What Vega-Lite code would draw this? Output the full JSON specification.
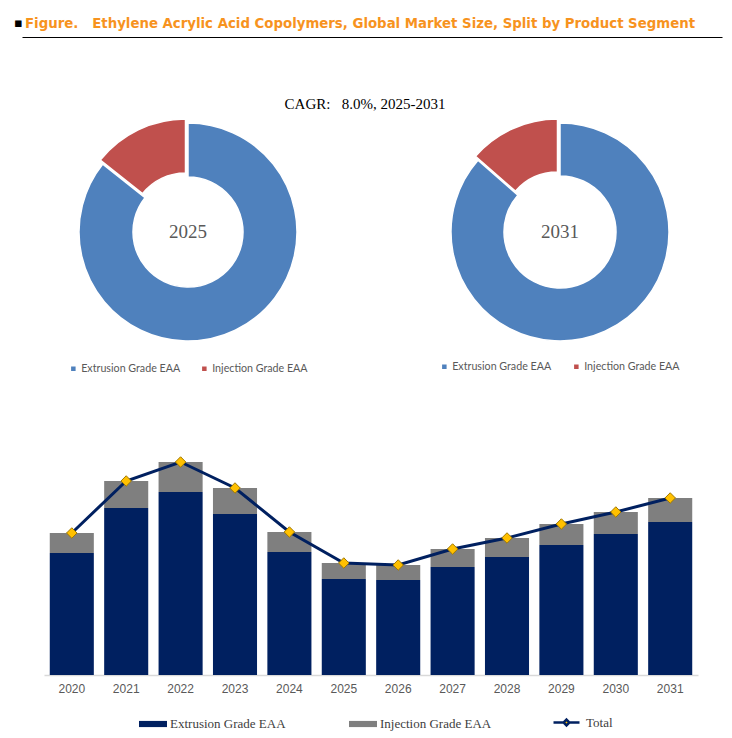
{
  "$schema": "https://vega.github.io/schema/vega-lite/v6.json",
  "padding": {"top": 16, "left": 0, "right": 0, "bottom": 0},
  "background": "white",
  "spacing": 0,
  "config": {"view": {"stroke": null}, "font": "Liberation Sans"},
  "datasets": {
    "market": [
      {"year": "2020", "segment": "Extrusion Grade EAA", "value": 122},
      {"year": "2020", "segment": "Injection Grade EAA", "value": 20},
      {"year": "2021", "segment": "Extrusion Grade EAA", "value": 167},
      {"year": "2021", "segment": "Injection Grade EAA", "value": 27},
      {"year": "2022", "segment": "Extrusion Grade EAA", "value": 183},
      {"year": "2022", "segment": "Injection Grade EAA", "value": 30},
      {"year": "2023", "segment": "Extrusion Grade EAA", "value": 161},
      {"year": "2023", "segment": "Injection Grade EAA", "value": 26},
      {"year": "2024", "segment": "Extrusion Grade EAA", "value": 123},
      {"year": "2024", "segment": "Injection Grade EAA", "value": 20},
      {"year": "2025", "segment": "Extrusion Grade EAA", "value": 96},
      {"year": "2025", "segment": "Injection Grade EAA", "value": 16},
      {"year": "2026", "segment": "Extrusion Grade EAA", "value": 95},
      {"year": "2026", "segment": "Injection Grade EAA", "value": 15},
      {"year": "2027", "segment": "Extrusion Grade EAA", "value": 108},
      {"year": "2027", "segment": "Injection Grade EAA", "value": 18},
      {"year": "2028", "segment": "Extrusion Grade EAA", "value": 118},
      {"year": "2028", "segment": "Injection Grade EAA", "value": 19},
      {"year": "2029", "segment": "Extrusion Grade EAA", "value": 130},
      {"year": "2029", "segment": "Injection Grade EAA", "value": 21},
      {"year": "2030", "segment": "Extrusion Grade EAA", "value": 141},
      {"year": "2030", "segment": "Injection Grade EAA", "value": 22},
      {"year": "2031", "segment": "Extrusion Grade EAA", "value": 153},
      {"year": "2031", "segment": "Injection Grade EAA", "value": 24}
    ]
  },
  "resolve": {
    "scale": {"color": "independent", "stroke": "independent"},
    "legend": {"color": "independent", "stroke": "independent"}
  },
  "vconcat": [
    {
      "spacing": 21,
      "bounds": "flush",
      "hconcat": [
        {
          "width": 1,
          "height": 1,
          "title": {"text": "▪", "anchor": "start", "dx": 14, "color": "#000000", "font": "DejaVu Sans", "fontSize": 13, "fontWeight": "bold", "offset": 7},
          "data": {"values": []},
          "mark": "text"
        },
        {
          "width": 700,
          "height": 60,
          "title": {
            "text": "Figure.\u00a0\u00a0 Ethylene Acrylic Acid Copolymers, Global Market Size, Split by Product Segment",
            "anchor": "start",
            "dx": 3,
            "color": "#F7931E",
            "font": "DejaVu Sans Condensed",
            "fontSize": 14.8,
            "fontWeight": "bold",
            "offset": 6
          },
          "data": {"values": [{"p": 0}, {"p": 1}]},
          "mark": {"type": "text", "text": ""},
          "encoding": {
            "x": {
              "field": "p",
              "type": "quantitative",
              "scale": {"domain": [0, 1], "nice": false},
              "axis": {"orient": "top", "domain": true, "domainColor": "#000000", "domainWidth": 1, "ticks": false, "labels": false, "grid": false, "title": null}
            }
          }
        }
      ]
    },
    {
      "spacing": 14,
      "bounds": "flush",
      "title": {
        "text": "CAGR:\u00a0\u00a0 8.0%, 2025-2031",
        "anchor": "middle",
        "font": "Liberation Serif",
        "fontSize": 15,
        "fontWeight": "normal",
        "color": "#000000",
        "offset": 4
      },
      "resolve": {"scale": {"color": "independent"}, "legend": {"color": "independent"}},
      "hconcat": [
        {
          "width": 376,
          "height": 222,
          "data": {"name": "market"},
          "transform": [{"filter": "datum.year == '2025'"}],
          "layer": [
            {
              "mark": {
                "type": "arc",
                "innerRadius": 55,
                "outerRadius": 109,
                "stroke": "white",
                "strokeWidth": 1.5,
                "xOffset": {"expr": "datum.segment == 'Injection Grade EAA' ? -2.5 : 0"},
                "yOffset": {"expr": "datum.segment == 'Injection Grade EAA' ? -4 : 0"}
              },
              "encoding": {
                "theta": {"field": "value", "type": "quantitative", "stack": true},
                "order": {"field": "segment", "sort": "ascending"},
                "color": {
                  "field": "segment",
                  "type": "nominal",
                  "scale": {"domain": ["Extrusion Grade EAA", "Injection Grade EAA"], "range": ["#4F81BD", "#C0504D"]},
                  "legend": {
                    "orient": "none", "legendX": 68, "legendY": 242, "direction": "horizontal", "title": null,
                    "symbolType": "square", "symbolSize": 36, "labelFont": "Lato", "labelFontSize": 10.7,
                    "labelColor": "#595959", "columnPadding": 17, "labelOffset": 2.5
                  }
                }
              }
            },
            {
              "transform": [{"filter": "datum.segment == 'Extrusion Grade EAA'"}],
              "mark": {"type": "text", "font": "Liberation Serif", "fontSize": 19, "color": "#595959", "baseline": "middle"},
              "encoding": {"text": {"field": "year"}}
            }
          ]
        },
        {
          "width": 340,
          "height": 222,
          "data": {"name": "market"},
          "transform": [{"filter": "datum.year == '2031'"}],
          "layer": [
            {
              "mark": {
                "type": "arc",
                "innerRadius": 56,
                "outerRadius": 109,
                "stroke": "white",
                "strokeWidth": 1.5,
                "xOffset": {"expr": "datum.segment == 'Injection Grade EAA' ? -2.5 : 0"},
                "yOffset": {"expr": "datum.segment == 'Injection Grade EAA' ? -4 : 0"}
              },
              "encoding": {
                "theta": {"field": "value", "type": "quantitative", "stack": true},
                "order": {"field": "segment", "sort": "ascending"},
                "color": {
                  "field": "segment",
                  "type": "nominal",
                  "scale": {"domain": ["Extrusion Grade EAA", "Injection Grade EAA"], "range": ["#4F81BD", "#C0504D"]},
                  "legend": {
                    "orient": "none", "legendX": 49, "legendY": 240, "direction": "horizontal", "title": null,
                    "symbolType": "square", "symbolSize": 36, "labelFont": "Lato", "labelFontSize": 10.7,
                    "labelColor": "#595959", "columnPadding": 18, "labelOffset": 2.5
                  }
                }
              }
            },
            {
              "transform": [{"filter": "datum.segment == 'Extrusion Grade EAA'"}],
              "mark": {"type": "text", "font": "Liberation Serif", "fontSize": 19, "color": "#595959", "baseline": "middle"},
              "encoding": {"text": {"field": "year"}}
            }
          ]
        }
      ]
    },
    {
      "spacing": 43,
      "bounds": "flush",
      "resolve": {
        "scale": {"color": "independent", "stroke": "independent"},
        "legend": {"color": "independent", "stroke": "independent"}
      },
      "hconcat": [
        {"width": 1, "height": 1, "data": {"values": []}, "mark": "text"},
        {
          "width": 654,
          "height": 300,
          "data": {"name": "market"},
          "layer": [
            {
              "mark": {"type": "bar"},
              "encoding": {
                "x": {
                  "field": "year", "type": "ordinal",
                  "scale": {"paddingInner": 0.19, "paddingOuter": 0.106},
                  "axis": {"title": null, "labelAngle": 0, "ticks": false, "domainColor": "#D9D9D9", "domainWidth": 1.5, "labelColor": "#595959", "labelFontSize": 12, "labelFont": "Liberation Sans", "labelPadding": 8, "grid": false}
                },
                "y": {"field": "value", "type": "quantitative", "stack": true, "scale": {"domain": [0, 300], "nice": false}, "axis": null},
                "order": {"field": "segment", "sort": "ascending"},
                "color": {
                  "field": "segment", "type": "nominal",
                  "scale": {"domain": ["Extrusion Grade EAA", "Injection Grade EAA"], "range": ["#002060", "#7F7F7F"]},
                  "legend": {
                    "orient": "none", "legendX": 95, "legendY": 335, "direction": "horizontal", "title": null,
                    "symbolType": "M-1,-0.22H1V0.22H-1Z", "symbolSize": 784, "symbolStrokeWidth": 0,
                    "labelFont": "Liberation Serif", "labelFontSize": 13, "labelColor": "#404040",
                    "columnPadding": 63, "labelOffset": 3
                  }
                }
              }
            },
            {
              "transform": [{"aggregate": [{"op": "sum", "field": "value", "as": "total"}], "groupby": ["year"]}],
              "layer": [
                {
                  "mark": {"type": "line", "strokeWidth": 3},
                  "encoding": {
                    "x": {"field": "year", "type": "ordinal"},
                    "y": {"field": "total", "type": "quantitative", "axis": null},
                    "stroke": {
                      "datum": "Total",
                      "scale": {"range": ["#002060"]},
                      "legend": {
                        "orient": "none", "legendX": 508, "legendY": 333, "title": null,
                        "symbolType": "M-1,0H-0.22M0.22,0H1M0,-0.22L0.22,0L0,0.22L-0.22,0Z", "symbolSize": 676,
                        "symbolStrokeWidth": 2.5, "symbolFillColor": "#FFC000",
                        "labelFont": "Liberation Serif", "labelFontSize": 13, "labelColor": "#404040", "labelOffset": 5
                      }
                    }
                  }
                },
                {
                  "mark": {"type": "point", "shape": "diamond", "filled": true, "fill": "#FFC000", "stroke": "#A07800", "strokeWidth": 1, "size": 110, "opacity": 1},
                  "encoding": {
                    "x": {"field": "year", "type": "ordinal"},
                    "y": {"field": "total", "type": "quantitative", "axis": null}
                  }
                }
              ]
            }
          ]
        }
      ]
    }
  ]
}
